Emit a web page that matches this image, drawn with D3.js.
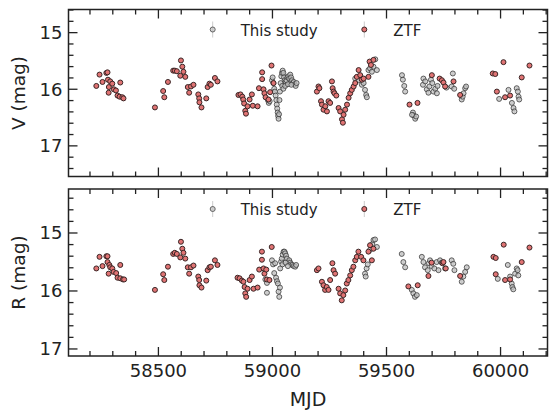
<!DOCTYPE html>
<html><head><meta charset="utf-8">
<script src="https://cdn.jsdelivr.net/npm/d3@7"></script>
<style>body{margin:0;background:#fff}svg{display:block}text{font-family:"DejaVu Sans",sans-serif;fill:#222}</style>
</head><body><svg id="c" width="549" height="412"></svg>
<script>
// ---------- DATA ----------
const xTicks = [58500, 59000, 59500, 60000];
const vTicks = [15, 16, 17];
const rTicks = [15, 16, 17];
const legendLabels = ["This study", "ZTF"];

// V band, ZTF  [MJD, mag]
const vZTF = [
[58230,15.95],[58244,15.75],[58257,15.88],[58274,15.72],[58279,15.71],[58281,15.84],[58291,15.87],[58285,15.97],[58284,16.07],[58300,15.91],[58307,16.01],[58316,16.03],[58323,16.12],[58335,15.89],[58332,16.14],[58344,16.15],[58349,16.17],
[58487,16.33],[58523,16.04],[58528,16.15],[58544,15.88],[58567,15.68],[58574,15.68],[58583,15.69],[58598,15.77],[58601,15.50],[58607,15.61],[58612,15.70],[58620,15.79],[58631,15.97],[58637,16.07],[58645,15.96],[58656,15.93],[58677,16.10],[58681,16.17],[58682,16.24],[58691,16.33],[58712,16.17],[58718,15.97],[58726,15.91],[58732,15.93],[58750,15.81],[58761,15.87],
[58853,16.11],[58862,16.10],[58870,16.14],[58874,16.19],[58878,16.26],[58883,16.39],[58886,16.44],[58893,16.31],[58902,16.19],[58912,16.10],[58916,16.30],[58937,16.31],[58943,15.99],[58957,15.71],[58957,15.83],[58963,16.01],[58967,16.08],[58972,16.15],[58985,16.19],[58992,16.06],[58998,15.59],[59007,15.90],
[59197,16.05],[59204,15.96],[59208,15.99],[59215,16.22],[59219,16.28],[59226,16.37],[59234,16.31],[59241,16.40],[59248,16.22],[59255,16.25],[59263,15.87],[59266,15.99],[59270,16.05],[59274,16.08],[59282,16.12],[59292,16.34],[59299,16.40],[59307,16.54],[59311,16.60],[59314,16.46],[59321,16.37],[59329,16.28],[59336,16.16],[59343,16.08],[59350,16.02],[59358,15.96],[59365,15.90],[59372,15.79],[59380,15.67],[59387,15.76],[59394,15.84],[59402,15.82],[59423,15.79],[59428,15.52],[59434,15.58],[59445,15.49],
[59603,16.28],[59638,16.25],[59701,15.76],[59735,15.82],[59745,15.85],[59752,15.89],[59759,15.96],[59796,15.87],[59825,16.11],
[59968,15.73],[59979,15.74],[60015,15.53],[59986,16.05],[60022,16.15],[60044,16.12],[60095,15.80],[60129,15.59]
];
// V band, this study
const vThis = [
[58982,16.20],[58986,16.25],[58990,16.22],
[59000,15.85],[59003,15.80],[59006,15.90],[59010,16.00],[59013,16.05],[59016,16.12],[59019,16.20],[59021,16.28],[59023,16.35],[59025,16.42],[59027,16.48],[59029,16.53],[59031,16.45],[59033,16.20],[59035,16.05],[59038,15.90],[59041,15.78],[59044,15.72],[59047,15.68],[59050,15.72],[59053,15.80],[59056,15.85],[59060,15.88],[59064,15.85],[59068,15.80],[59072,15.78],[59076,15.82],[59080,15.75],[59084,15.80],[59088,15.85],[59092,15.90],[59096,15.88],[59100,15.92],[59104,15.95],[59108,15.90],[59045,15.95],[59050,16.00],[59058,15.95],[59070,15.92],[59085,15.93],
[59365,15.82],[59380,15.85],[59394,15.93],[59402,15.90],[59408,16.02],[59413,16.11],[59416,16.15],[59423,15.67],[59430,15.64],[59438,15.70],[59445,15.61],[59453,15.48],[59460,15.67],
[59570,15.76],[59574,15.84],[59580,15.95],[59584,16.05],[59618,16.42],[59621,16.47],[59628,16.53],[59632,16.49],[59614,16.46],
[59664,15.82],[59662,15.93],[59672,15.87],[59679,16.01],[59686,16.07],[59690,15.96],[59697,15.84],[59703,15.90],[59708,16.05],[59716,16.00],[59723,16.08],[59726,15.95],[59765,15.98],[59793,15.73],[59788,15.96],[59799,16.00],[59832,16.19],[59836,16.14],[59840,16.08],[59847,15.99],[59851,15.96],
[59996,16.18],[60037,16.02],[60052,16.25],[60059,16.34],[60063,16.40],[60073,15.99],[60078,16.05],[60081,16.14],[60084,16.19]
];
// R band, ZTF
const rZTF = [
[58230,15.62],[58244,15.42],[58257,15.58],[58274,15.41],[58279,15.41],[58279,15.51],[58287,15.56],[58291,15.60],[58284,15.71],[58300,15.62],[58306,15.68],[58317,15.70],[58323,15.78],[58335,15.56],[58335,15.79],[58347,15.81],[58352,15.81],
[58487,15.99],[58523,15.72],[58528,15.82],[58544,15.59],[58567,15.37],[58574,15.35],[58583,15.37],[58598,15.43],[58601,15.16],[58607,15.28],[58612,15.35],[58620,15.45],[58631,15.60],[58637,15.71],[58645,15.60],[58656,15.57],[58677,15.76],[58681,15.82],[58682,15.91],[58691,15.95],[58712,15.83],[58718,15.65],[58726,15.60],[58732,15.59],[58750,15.48],[58761,15.56],
[58849,15.78],[58858,15.79],[58868,15.83],[58875,15.85],[58880,15.94],[58883,16.05],[58887,16.11],[58893,15.97],[58902,15.82],[58912,15.76],[58919,15.97],[58937,15.95],[58944,15.64],[58956,15.33],[58956,15.47],[58963,15.62],[58967,15.71],[58975,15.64],[58978,15.81],[58989,15.82],[58999,15.25],
[59197,15.65],[59204,15.62],[59219,15.85],[59226,15.91],[59233,15.99],[59240,15.94],[59248,15.99],[59255,15.82],[59265,15.53],[59270,15.65],[59277,15.71],[59292,15.97],[59299,16.05],[59306,16.17],[59313,16.08],[59321,16.00],[59328,15.88],[59335,15.82],[59343,15.74],[59350,15.65],[59357,15.59],[59365,15.48],[59372,15.42],[59379,15.33],[59391,15.42],[59401,15.48],[59423,15.33],[59430,15.22],[59438,15.48],[59445,15.28],
[59598,15.93],[59639,15.91],[59686,15.75],[59700,15.52],[59748,15.53],[59752,15.51],[59762,15.62],[59825,15.75],
[59971,15.42],[59981,15.44],[60016,15.21],[59981,15.72],[60022,15.82],[60044,15.81],[60095,15.51],[60129,15.26]
];
// R band, this study
const rThis = [
[58978,16.04],[58971,15.81],[58978,15.87],
[59000,15.48],[59005,15.55],[59010,15.70],[59014,15.53],[59018,15.78],[59022,15.84],[59026,15.88],[59029,16.02],[59032,16.11],[59035,15.95],[59036,15.62],[59040,15.50],[59043,15.45],[59047,15.38],[59051,15.33],[59055,15.33],[59058,15.36],[59062,15.40],[59066,15.45],[59072,15.51],[59076,15.48],[59080,15.52],[59084,15.55],[59090,15.56],[59095,15.58],[59102,15.59],[59106,15.56],[59046,15.55],[59060,15.52],[59070,15.58],
[59408,15.71],[59411,15.76],[59415,15.62],[59420,15.55],[59430,15.30],[59440,15.20],[59445,15.13],[59452,15.12],[59460,15.25],
[59569,15.37],[59576,15.51],[59584,15.60],[59613,15.99],[59620,16.05],[59627,16.11],[59635,16.08],
[59657,15.42],[59664,15.51],[59671,15.60],[59683,15.65],[59688,15.53],[59693,15.48],[59700,15.58],[59712,15.62],[59722,15.51],[59730,15.65],[59737,15.48],[59744,15.52],[59759,15.62],[59788,15.48],[59795,15.54],[59800,15.65],[59832,15.85],[59839,15.76],[59847,15.68],[59854,15.60],
[59990,15.80],[60034,15.56],[60044,15.76],[60051,15.88],[60054,15.94],[60058,15.98],[60066,15.71],[60073,15.62],[60077,15.65],[60080,15.74]
];

// ---------- DRAW ----------
const svg = d3.select("#c");
const L = 68.5, R = 547.5;
const panels = [
  {top: 9.5, bot: 176.5, dom: [14.6, 17.55], ticks: vTicks, label: "V (mag)", ztf: vZTF, me: vThis, xlab: false},
  {top: 189, bot: 356, dom: [14.25, 17.13], ticks: rTicks, label: "R (mag)", ztf: rZTF, me: rThis, xlab: true}
];
const x = d3.scaleLinear().domain([58108, 60208]).range([L, R]);
const err = 0.035;
const meFill = "#c4c4c4", meStroke = "#333", ztFill = "#e07373", ztStroke = "#3a2626";

panels.forEach(p => {
  const y = d3.scaleLinear().domain(p.dom).range([p.top, p.bot]);
  const g = svg.append("g");
  const minorX = d3.range(58200, 60201, 100).filter(v => !xTicks.includes(v));
  const minorY = d3.range(14.4, 17.6, 0.2).map(v => +v.toFixed(1)).filter(v => v >= p.dom[0] && v <= p.dom[1] && !p.ticks.includes(v));
  const axes = [
    [d3.axisBottom(x).tickValues(xTicks).tickSize(-9).tickFormat(p.xlab ? d3.format("d") : ""), `translate(0,${p.bot})`, "x"],
    [d3.axisBottom(x).tickValues(minorX).tickSize(-5).tickFormat(""), `translate(0,${p.bot})`, "x"],
    [d3.axisTop(x).tickValues(xTicks).tickSize(-9).tickFormat(""), `translate(0,${p.top})`, "x"],
    [d3.axisTop(x).tickValues(minorX).tickSize(-5).tickFormat(""), `translate(0,${p.top})`, "x"],
    [d3.axisLeft(y).tickValues(p.ticks).tickSize(-9).tickFormat(d3.format("d")), `translate(${L},0)`, "y"],
    [d3.axisLeft(y).tickValues(minorY).tickSize(-5).tickFormat(""), `translate(${L},0)`, "y"],
    [d3.axisRight(y).tickValues(p.ticks).tickSize(-9).tickFormat(""), `translate(${R},0)`, "y"],
    [d3.axisRight(y).tickValues(minorY).tickSize(-5).tickFormat(""), `translate(${R},0)`, "y"]
  ];
  axes.forEach(([a, t, k]) => {
    const ag = g.append("g").attr("transform", t).call(a);
    ag.select(".domain").remove();
    ag.selectAll(".tick line").attr("stroke", "#222").attr("stroke-width", 1.3);
    ag.selectAll(".tick text").style("font-size", "18px").attr("fill", "#222");
    if (k === "y") ag.selectAll(".tick text").attr("x", -6).attr("dy", "0.36em");
    else ag.selectAll(".tick text").attr("y", 7).attr("dy", "0.76em");
  });
  // this study
  const me = g.append("g");
  me.selectAll("line").data(p.me).join("line")
    .attr("x1", d => x(d[0])).attr("x2", d => x(d[0]))
    .attr("y1", d => y(d[1] - err)).attr("y2", d => y(d[1] + err))
    .attr("stroke", "#bbb").attr("stroke-width", 0.8);
  me.selectAll("circle").data(p.me).join("circle")
    .attr("cx", d => x(d[0])).attr("cy", d => y(d[1])).attr("r", 2.5)
    .attr("fill", meFill).attr("stroke", meStroke).attr("stroke-width", 1).attr("fill-opacity", 0.75).attr("stroke-opacity", 0.75);
  // ZTF
  const zt = g.append("g");
  zt.selectAll("line").data(p.ztf).join("line")
    .attr("x1", d => x(d[0])).attr("x2", d => x(d[0]))
    .attr("y1", d => y(d[1] - err)).attr("y2", d => y(d[1] + err))
    .attr("stroke", "#bbb").attr("stroke-width", 0.8);
  zt.selectAll("circle").data(p.ztf).join("circle")
    .attr("cx", d => x(d[0])).attr("cy", d => y(d[1])).attr("r", 2.5)
    .attr("fill", ztFill).attr("stroke", ztStroke).attr("stroke-width", 1);
  // frame
  g.append("rect").attr("x", L).attr("y", p.top).attr("width", R - L).attr("height", p.bot - p.top)
    .attr("fill", "none").attr("stroke", "#222").attr("stroke-width", 1.5);
  // y label
  g.append("text").attr("transform", `translate(25,${(p.top + p.bot) / 2}) rotate(-90)`)
    .attr("text-anchor", "middle").style("font-size", "18.5px").text(p.label);
  // legend
  const ly = p.top + 20;
  const lg = g.append("g");
  [[212.7, meFill, meStroke, legendLabels[0], 240.7, 0.75], [364.3, ztFill, ztStroke, legendLabels[1], 393.3, 1]].forEach(([lx, f, s, t, tx, op]) => {
    lg.append("line").attr("x1", lx).attr("x2", lx).attr("y1", ly - 8).attr("y2", ly + 8).attr("stroke", "#ccc").attr("stroke-width", 1);
    lg.append("circle").attr("cx", lx).attr("cy", ly).attr("r", 2.5).attr("fill", f).attr("stroke", s).attr("stroke-width", 1).attr("opacity", op);
    lg.append("text").attr("x", tx).attr("y", ly + 6).style("font-size", "15px").text(t);
  });
});
svg.append("text").attr("x", (L + R) / 2).attr("y", 406).attr("text-anchor", "middle").style("font-size", "19px").text("MJD");
</script></body></html>
